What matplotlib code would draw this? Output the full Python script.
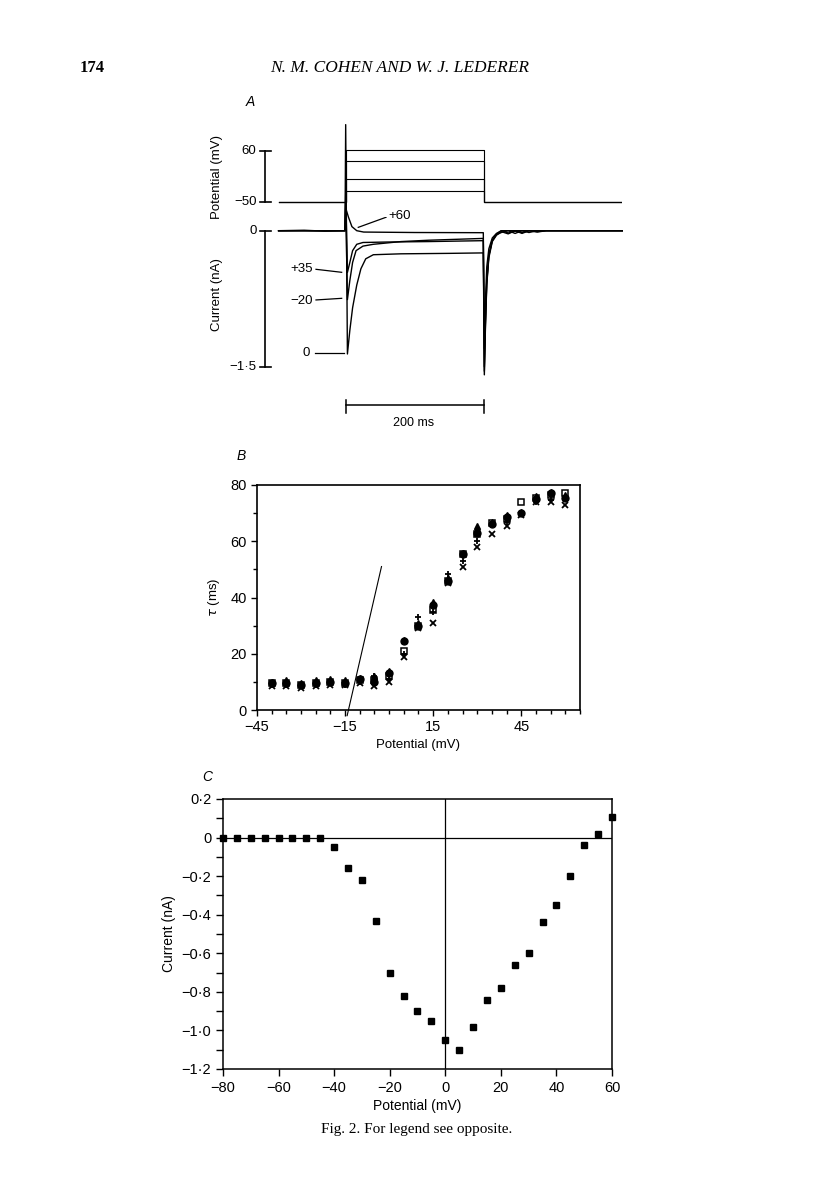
import matplotlib
matplotlib.use("Agg")
import matplotlib.pyplot as plt
from matplotlib.ticker import MultipleLocator

plt.rcParams['font.family'] = ['Liberation Sans', 'DejaVu Sans']

# ---- panel A: voltage steps (mV) and current traces (nA) ----
hold_mv = -50
step_levels = [-26, -1, 38, 61]
step_t = [-97, 0, 0, 200, 200, 400]

cur0_t = [-97, -60, -30, -1, 0, 2.5, 6, 10, 16, 22, 29, 40, 80, 150, 199,
          200.5, 202, 204, 207, 212, 218, 225, 235, 245, 255, 265, 277, 290, 400]
cur0_i = [0, 0.005, -0.005, 0, 1.17, -1.36, -1.1, -0.85, -0.6, -0.42, -0.31, -0.265,
          -0.255, -0.25, -0.245, -1.59, -1.1, -0.6, -0.3, -0.12, -0.05, -0.01,
          -0.035, 0.0, -0.03, 0.0, -0.015, 0.0, 0.0]
curm20_t = [-97, -1, 0, 2.5, 6, 10, 15, 25, 40, 80, 120, 160, 199, 200.5, 202, 204,
            207, 212, 218, 225, 235, 245, 255, 265, 277, 290, 400]
curm20_i = [0, 0, 0.3, -0.76, -0.55, -0.35, -0.22, -0.17, -0.15, -0.12, -0.105,
            -0.095, -0.085, -1.5, -1.0, -0.55, -0.27, -0.1, -0.04, 0.0, -0.025,
            -0.005, -0.02, 0.0, -0.01, 0.0, 0.0]
cur35_t = [-97, -1, 0, 2.5, 6, 10, 16, 25, 60, 120, 199, 200.5, 202, 204, 207, 212,
           218, 225, 235, 245, 255, 265, 277, 290, 400]
cur35_i = [0, 0, 0.4, -0.46, -0.35, -0.22, -0.15, -0.13, -0.125, -0.12, -0.11,
           -1.55, -1.05, -0.58, -0.28, -0.11, -0.045, -0.02, 0.0, -0.03, 0.0,
           -0.02, 0.0, 0.0, 0.0]
cur60_t = [-97, -1, 0, 4, 9, 16, 26, 100, 199, 200.5, 202, 204, 207, 212, 218, 225, 400]
cur60_i = [0, 0, 0.25, 0.15, 0.045, 0.0, -0.015, -0.02, -0.022, -1.3, -0.8, -0.4,
           -0.2, -0.08, -0.03, 0.0, 0.0]

# ---- panel B: time constant (ms) vs potential (mV) ----
b_mv = [-40, -35, -30, -25, -20, -15, -10, -5, 0, 5, 10, 15, 20, 25, 30, 35, 40, 45, 50, 55, 60]
tau_tri = [10, 10.5, 9.5, 10.5, 11, 10.5, 11.5, 12, 14, 25, 31, 38.5, 47, 56, 65.5, 67, 69.5, 70.5, 76, 77.5, 76.5]
tau_circ = [9.5, 9.5, 9, 9.5, 10, 9.5, 11, 10, 13, 24.5, 30, 37.5, 46, 55.5, 63, 66, 68.5, 70, 75, 77, 75.5]
tau_sq = [9.5, 9.5, 9, 9.5, 10, 9.5, 10.5, 10.5, 12, 21, 30, 35.5, 46, 55.5, 62.5, 66.5, 68, 74, 75.5, 76.5, 77]
tau_plus = [9, 9, 8.5, 9, 9.5, 9, 10, 12, 11, 20, 33, 35, 48.5, 53, 60, 66, 67, 70, 74, 74.5, 75]
tau_x = [8.5, 8.5, 8, 8.5, 9, 9, 9.5, 8.5, 10, 19, 29, 31, 45, 51, 58, 62.5, 65.5, 69.5, 74, 74, 73]
fit_mv = [-14.3, -2.6]
fit_tau = [-2, 51]

# ---- panel C: current-voltage relation ----
c_mv = [-80, -75, -70, -65, -60, -55, -50, -45, -40, -35, -30, -25, -20, -15, -10,
        -5, 0, 5, 10, 15, 20, 25, 30, 35, 40, 45, 50, 55, 60]
c_na = [0, 0, 0, 0, 0, 0, 0, 0, -0.05, -0.16, -0.22, -0.43, -0.70, -0.82, -0.90,
        -0.95, -1.05, -1.10, -0.98, -0.84, -0.78, -0.66, -0.60, -0.44, -0.35,
        -0.20, -0.04, 0.02, 0.105]
c_yticks = [0.2, 0, -0.2, -0.4, -0.6, -0.8, -1.0, -1.2]
c_ylabels = ['0·2', '0', '−0·2', '−0·4', '−0·6', '−0·8', '−1·0', '−1·2']
c_xticks = [-80, -60, -40, -20, 0, 20, 40, 60]
c_xlabels = ['−80', '−60', '−40', '−20', '0', '20', '40', '60']

W, H = 816, 1201
fig = plt.figure(figsize=(W / 100, H / 100), dpi=100)


def box(l, t, r, b):
    return [l / W, 1 - b / H, (r - l) / W, (b - t) / H]


def fx(px):
    return px / W


def fy(py):
    return 1 - py / H


# header and caption
fig.text(fx(80), fy(68), '174', family='Liberation Serif', weight='bold',
         fontsize=12, va='center', ha='left')
fig.text(fx(400), fy(68), 'N. M. COHEN AND W. J. LEDERER', family='Liberation Serif',
         style='italic', fontsize=12.5, va='center', ha='center')
fig.text(fx(417), fy(1129), 'Fig. 2. For legend see opposite.', family='Liberation Serif',
         fontsize=11, va='center', ha='center')

# ---------------- panel A ----------------
ax_v = fig.add_axes(box(262.7, 118.3, 622.3, 215.6))
ax_i = fig.add_axes(box(262.7, 217.1, 622.3, 425.6))
for a in (ax_v, ax_i):
    a.set_xlim(-120, 400)
    a.axis('off')
ax_v.set_ylim(-80, 130)
ax_i.set_ylim(-2.15, 0.15)

for lev in step_levels:
    ax_v.plot(step_t, [hold_mv, hold_mv, lev, lev, hold_mv, hold_mv], color='k', lw=0.8)

for tt, ii in [(cur0_t, cur0_i), (curm20_t, curm20_i), (cur35_t, cur35_i), (cur60_t, cur60_i)]:
    ax_i.plot(tt, ii, color='k', lw=1.0, clip_on=False)

# scale bars
bar_t = -116
ax_v.plot([bar_t, bar_t], [-50, 60], color='k', lw=1.2, clip_on=False)
ax_i.plot([bar_t, bar_t], [0, -1.5], color='k', lw=1.2, clip_on=False)
for a, y in [(ax_v, 60), (ax_v, -50), (ax_i, 0), (ax_i, -1.5)]:
    a.plot([bar_t - 8.5, bar_t + 8.5], [y, y], color='k', lw=1.2, clip_on=False)
for a, y, s in [(ax_v, 60, '60'), (ax_v, -50, '−50'), (ax_i, 0, '0'), (ax_i, -1.5, '−1·5')]:
    a.text(-129, y, s, ha='right', va='center', fontsize=9.5)
fig.text(fx(217), fy(177), 'Potential (mV)', rotation=90, ha='center', va='center', fontsize=9.5)
fig.text(fx(217), fy(295), 'Current (nA)', rotation=90, ha='center', va='center', fontsize=9.5)

# trace labels
ax_i.text(61.6, 0.162, '+60', ha='left', va='center', fontsize=9.5)
ax_i.plot([18.2, 58.3], [0.037, 0.148], color='k', lw=0.9)
ax_i.text(-47.3, -0.426, '+35', ha='right', va='center', fontsize=9.5)
ax_i.plot([-42.9, -5.8], [-0.426, -0.459], color='k', lw=0.9)
ax_i.text(-47.3, -0.772, '−20', ha='right', va='center', fontsize=9.5)
ax_i.plot([-42.9, -5.8], [-0.764, -0.746], color='k', lw=0.9)
ax_i.text(-51.6, -1.345, '0', ha='right', va='center', fontsize=9.5)
ax_i.plot([-44.4, -2.5], [-1.345, -1.345], color='k', lw=0.9)

# time scale bar
ax_i.plot([0, 200], [-1.92, -1.92], color='k', lw=1.1)
for t0 in (0, 200):
    ax_i.plot([t0, t0], [-1.87, -2.01], color='k', lw=1.1)
ax_i.text(98, -2.12, '200 ms', ha='center', va='center', fontsize=9)

fig.text(fx(250), fy(102), 'A', style='italic', fontsize=10, ha='center', va='center')

# ---------------- panel B ----------------
axb = fig.add_axes(box(257, 485, 580, 710))
axb.plot(b_mv, tau_sq, 's', mec='k', mfc='white', ms=4, mew=1.1, clip_on=False)
axb.plot(b_mv, tau_x, 'x', color='k', ms=4, mew=1.3, clip_on=False)
axb.plot(b_mv, tau_plus, '+', color='k', ms=5, mew=1.3, clip_on=False)
axb.plot(b_mv, tau_circ, 'o', color='k', ms=5, clip_on=False)
axb.plot(b_mv, tau_tri, '^', color='k', ms=5, clip_on=False)
axb.plot(fit_mv, fit_tau, color='k', lw=0.8, clip_on=False)
axb.set_xlim(-45, 65)
axb.set_ylim(0, 80)
axb.set_xticks([-45, -15, 15, 45])
axb.set_xticklabels(['−45', '−15', '15', '45'])
axb.set_yticks([0, 20, 40, 60, 80])
axb.xaxis.set_minor_locator(MultipleLocator(5))
axb.yaxis.set_minor_locator(MultipleLocator(10))
axb.tick_params(which='both', direction='out', labelsize=10.5, width=1.0)
axb.tick_params(which='major', length=4)
axb.tick_params(which='minor', length=3)
for s in axb.spines.values():
    s.set_linewidth(1.2)
axb.set_xlabel('Potential (mV)', fontsize=9.5, labelpad=3)
axb.set_ylabel(r'$\tau$ (ms)', fontsize=9.5, labelpad=6)
fig.text(fx(241), fy(456), 'B', style='italic', fontsize=10, ha='center', va='center')

# ---------------- panel C ----------------
axc = fig.add_axes(box(223, 799, 612, 1069))
axc.plot(c_mv, c_na, 's', color='k', ms=4.3, clip_on=False, zorder=3)
axc.axhline(0, color='k', lw=0.9)
axc.axvline(0, color='k', lw=0.9)
axc.set_xlim(-80, 60)
axc.set_ylim(-1.2, 0.2)
axc.set_xticks(c_xticks)
axc.set_xticklabels(c_xlabels)
axc.set_yticks(c_yticks)
axc.set_yticklabels(c_ylabels)
axc.yaxis.set_minor_locator(MultipleLocator(0.1))
axc.tick_params(which='both', direction='out', labelsize=10.5, width=1.0)
axc.tick_params(which='major', length=5)
axc.tick_params(which='minor', length=5)
for s in axc.spines.values():
    s.set_linewidth(1.1)
axc.set_xlabel('Potential (mV)', fontsize=10, labelpad=3)
axc.set_ylabel('Current (nA)', fontsize=10, labelpad=4)
fig.text(fx(207), fy(777), 'C', style='italic', fontsize=10, ha='center', va='center')

fig.savefig('out.png', dpi=100, facecolor='white')
